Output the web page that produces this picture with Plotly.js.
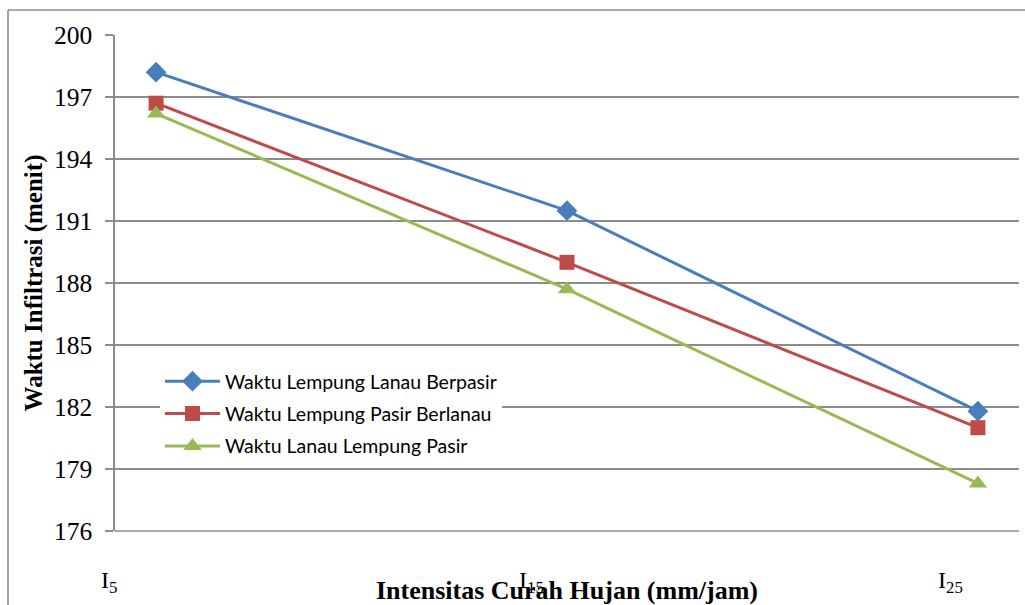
<!DOCTYPE html>
<html>
<head>
<meta charset="utf-8">
<script src="https://cdn.plot.ly/plotly-3.0.1.min.js"></script>
<style>html,body{margin:0;padding:0;background:#fff;}#chart{width:1025px;height:605px;}</style>
</head>
<body>
<div id="chart"></div>
<script>
// Data
const xValues = [5, 15, 25];
const xTickLabels = ['I<sub>5</sub>', 'I<sub>15</sub>', 'I<sub>25</sub>'];
const seriesNames = ['Waktu Lempung Lanau Berpasir', 'Waktu Lempung Pasir Berlanau', 'Waktu Lanau Lempung Pasir'];
const lempungLanauBerpasir = [198.2, 191.5, 181.8];
const lempungPasirBerlanau = [196.7, 189.0, 181.0];
const lanauLempungPasir = [196.2, 187.7, 178.3];
const yTicks = [176, 179, 182, 185, 188, 191, 194, 197, 200];

const colors = ['#4A7EBB', '#BE4B48', '#98B954'];
const symbols = ['diamond', 'square', 'triangle-up'];
const sizes = [16, 15, 16];
const seriesValues = [lempungLanauBerpasir, lempungPasirBerlanau, lanauLempungPasir];

const traces = seriesValues.map((vals, i) => ({
  type: 'scatter',
  mode: 'lines+markers',
  x: xValues,
  y: vals,
  name: seriesNames[i],
  legendgroup: 'g' + i,
  line: {color: colors[i], width: 3},
  marker: {symbol: symbols[i], size: sizes[i], color: colors[i]},
  cliponaxis: false
}));

const W = 1025, H = 605;
const mL = 115, mR = 6, mT = 35, mB = 74;
const pw = W - mL - mR, ph = H - mT - mB;
const px = v => (v - mL) / pw;
const py = v => (H - mB - v) / ph;
const serif = 'Liberation Serif, Times New Roman, serif';

// x label positions (offset to the left of the points as in the reference)
const labelPx = [109, 531, 950];
const annotations = xTickLabels.map((t, i) => ({
  text: t, xref: 'paper', yref: 'paper',
  x: px(labelPx[i]), y: py(582), xanchor: 'center', yanchor: 'middle',
  showarrow: false,
  font: {family: serif, size: 24, color: '#000'}
}));

const borderColor = '#8C8C8C';
const layout = {
  width: W, height: H,
  margin: {l: mL, r: mR, t: mT, b: mB},
  paper_bgcolor: '#fff', plot_bgcolor: '#fff',
  showlegend: true,
  legend: {
    x: px(160), y: py(362), xanchor: 'left', yanchor: 'top',
    bgcolor: '#fff', borderwidth: 0,
    tracegroupgap: 4, itemwidth: 55,
    font: {family: 'Lato, Carlito, Calibri, sans-serif', size: 19.5, color: '#000'}
  },
  xaxis: {
    range: [4, 26], showgrid: false, zeroline: false,
    showticklabels: false, ticks: '', showline: false,
    title: {text: '<b>Intensitas Curah Hujan (mm/jam)</b>', standoff: 52,
      font: {family: serif, size: 26, color: '#000'}},
    automargin: false
  },
  yaxis: {
    range: [176, 200], tickvals: yTicks, ticktext: yTicks.map(String),
    showgrid: true, gridcolor: borderColor, gridwidth: 1.6,
    zeroline: false, showline: true, linecolor: borderColor, linewidth: 1.6,
    ticks: 'outside', ticklen: 8, tickcolor: borderColor, tickwidth: 1.6,
    ticklabelstandoff: 8,
    tickfont: {family: serif, size: 25.5, color: '#000'},
    title: {text: '<b>Waktu Infiltrasi (menit)</b>', standoff: 4,
      font: {family: serif, size: 25, color: '#000'}},
    automargin: false
  },
  annotations: annotations,
  shapes: [
    {type: 'line', xref: 'paper', yref: 'paper', x0: px(8), x1: px(1030), y0: py(10), y1: py(10),
     line: {color: borderColor, width: 1.6}, layer: 'below'},
    {type: 'line', xref: 'paper', yref: 'paper', x0: px(8), x1: px(8), y0: py(10), y1: py(620),
     line: {color: borderColor, width: 1.6}, layer: 'below'},
    {type: 'line', xref: 'paper', yref: 'paper', x0: 0, x1: 1, y0: 0, y1: 0,
     line: {color: borderColor, width: 1.6}, layer: 'below'}
  ]
};

Plotly.newPlot('chart', traces, layout, {displayModeBar: false, staticPlot: true});
</script>
</body>
</html>
